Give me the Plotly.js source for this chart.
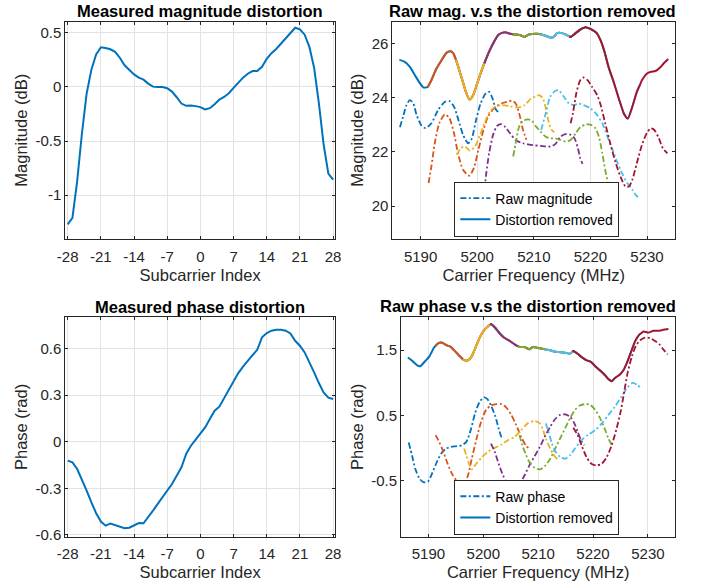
<!DOCTYPE html>
<html>
<head>
<meta charset="utf-8">
<script src="https://cdn.plot.ly/plotly-3.0.1.min.js"></script>
<style>html,body{margin:0;padding:0;background:#fff;}#chart{width:707px;height:584px;}</style>
</head>
<body>
<div id="chart"></div>
<script>
// ---------------- DATA ----------------
const subcarrierIdx = [-28,-27,-26,-25,-24,-23,-22,-21,-20,-19,-18,-17,-16,-15,-14,-13,-12,-11,-10,-9,-8,-7,-6,-5,-4,-3,-2,-1,0,1,2,3,4,5,6,7,8,9,10,11,12,13,14,15,16,17,18,19,20,21,22,23,24,25,26,27,28];
const magDistortion = [-1.27,-1.21,-0.87,-0.43,-0.06,0.16,0.30,0.367,0.36,0.348,0.324,0.27,0.20,0.153,0.116,0.086,0.067,0.031,0.003,0.0,0.0,-0.012,-0.043,-0.095,-0.153,-0.174,-0.171,-0.177,-0.186,-0.208,-0.196,-0.159,-0.116,-0.092,-0.058,-0.009,0.043,0.086,0.122,0.147,0.147,0.186,0.26,0.312,0.351,0.40,0.449,0.495,0.547,0.532,0.483,0.37,0.177,-0.15,-0.53,-0.80,-0.855];
const phaseDistortion = [-0.122,-0.133,-0.176,-0.24,-0.315,-0.39,-0.46,-0.514,-0.54,-0.527,-0.536,-0.549,-0.557,-0.553,-0.54,-0.523,-0.525,-0.486,-0.444,-0.40,-0.358,-0.315,-0.272,-0.219,-0.165,-0.079,-0.026,0.013,0.049,0.092,0.146,0.199,0.225,0.279,0.339,0.392,0.441,0.482,0.521,0.557,0.591,0.671,0.699,0.714,0.72,0.72,0.714,0.696,0.649,0.617,0.574,0.514,0.446,0.377,0.317,0.283,0.274];
const subTickVals = [-28,-21,-14,-7,0,7,14,21,28];
const subTickText = ['-28','-21','-14','-7','0','7','14','21','28'];
const magDistTickVals = [-1,-0.5,0,0.5];
const magDistTickText = ['-1','-0.5','0','0.5'];
const phDistTickVals = [-0.6,-0.3,0,0.3,0.6];
const phDistTickText = ['-0.6','-0.3','0','0.3','0.6'];
const freqTickVals = [5190,5200,5210,5220,5230];
const magTickVals = [20,22,24,26];
const phTickVals = [-0.5,0.5,1.5];
const phTickText = ['-0.5','0.5','1.5'];

const channelCenters = [5195,5200,5205,5210,5215,5220,5225];
const channelHalfSpan = 8.75;
const channelColors = ['#0072BD','#D95319','#EDB120','#7E2F8E','#77AC30','#4DBEEE','#A2142F'];

// raw magnitude per channel (MHz, dB)
const rawMag1F = [5186.35,5186.9,5187.5,5188.1,5188.7,5189.3,5190.2,5190.9,5191.9,5193.1,5194.3,5195.1,5195.9,5196.6,5197.5,5198.4,5199.0,5199.8,5200.6,5201.5,5202.1,5202.7,5203.3,5203.7];
const rawMag1V = [22.91,23.30,23.73,23.91,23.79,23.36,22.96,22.88,23.06,23.55,23.85,23.88,23.67,23.24,22.63,22.32,22.47,23.18,23.79,24.16,24.22,23.98,23.57,23.48];
const rawMag2F = [5191.4,5191.9,5192.5,5193.3,5194.3,5195.1,5195.9,5196.6,5197.5,5198.6,5199.4,5200.2,5201.1,5201.9,5203.1,5204.3,5205.2,5206.1,5206.8,5207.5,5208.1,5208.7];
const rawMag2V = [20.85,21.46,22.32,23.06,23.39,23.24,22.69,21.95,21.34,21.12,21.40,22.07,22.81,23.30,23.64,23.79,23.85,23.89,23.79,23.35,22.80,22.45];
const rawMag3F = [5196.35,5197.1,5197.8,5198.7,5199.6,5200.5,5201.4,5202.2,5203.3,5204.3,5205.8,5207.2,5208.4,5209.4,5210.3,5210.9,5211.6,5212.2,5212.6,5213.1,5213.6];
const rawMag3V = [21.89,22.13,22.20,22.05,22.20,22.63,23.12,23.48,23.69,23.73,23.69,23.64,23.73,23.95,24.05,24.10,23.98,23.55,23.12,22.83,22.72];
const rawMag4F = [5201.3,5201.6,5202.1,5202.8,5203.5,5204.2,5204.9,5205.8,5206.9,5208.1,5209.5,5211.2,5212.9,5213.8,5214.7,5215.6,5216.5,5217.2,5217.8,5218.2,5218.6];
const rawMag4V = [20.60,21.21,21.95,22.63,22.96,23.03,22.93,22.69,22.42,22.32,22.26,22.22,22.20,22.29,22.56,22.66,22.63,22.50,22.13,21.77,21.56];
const rawMag5F = [5206.35,5206.8,5207.4,5208.1,5209.0,5209.7,5210.3,5211.2,5212.1,5212.9,5213.8,5214.7,5215.6,5216.5,5217.4,5218.2,5219.1,5220.0,5220.9,5221.5,5222.1,5222.6,5223.1,5223.6];
const rawMag5V = [21.83,22.32,22.93,23.15,23.20,23.14,22.96,22.75,22.56,22.50,22.50,22.44,22.38,22.44,22.69,22.91,23.01,23.01,22.87,22.56,21.95,21.34,20.85,20.42];
const rawMag6F = [5211.3,5212.1,5212.9,5213.8,5214.4,5215.3,5216.2,5217.1,5217.9,5218.8,5220.0,5221.2,5222.1,5222.9,5223.8,5224.7,5225.6,5226.5,5227.4,5228.1,5228.7];
const rawMag6V = [22.81,23.42,24.04,24.26,24.28,24.04,23.79,23.73,23.79,23.73,23.61,23.36,23.06,22.63,22.13,21.64,21.21,20.85,20.60,20.38,20.29];
const rawMag7F = [5216.5,5216.9,5217.5,5218.2,5218.8,5219.5,5220.3,5221.2,5221.9,5222.6,5223.5,5224.4,5225.3,5226.2,5226.8,5227.4,5228.2,5229.1,5230.0,5230.7,5231.3,5232.1,5232.8,5233.6];
const rawMag7V = [23.06,23.42,24.16,24.65,24.75,24.65,24.40,24.10,23.67,23.06,22.32,21.64,21.09,20.72,20.72,20.97,21.58,22.26,22.71,22.87,22.81,22.50,22.13,21.95];

// magnitude with distortion removed (MHz, dB)
const remMagF = [5186.25,5187.2,5188.1,5189.0,5189.9,5190.5,5191.25,5191.9,5192.8,5193.7,5194.6,5195.3,5195.8,5196.25,5197.2,5198.0,5198.6,5199.2,5200.0,5200.8,5201.25,5202.2,5203.1,5203.75,5204.4,5204.9,5205.8,5206.25,5207.5,5208.4,5208.75,5209.3,5210.6,5211.25,5211.8,5213.2,5213.75,5214.1,5215.0,5215.9,5216.25,5216.5,5217.4,5218.2,5218.75,5219.1,5220.0,5220.9,5221.25,5221.8,5222.5,5223.2,5223.75,5224.1,5225.0,5225.9,5226.25,5226.6,5227.4,5228.2,5228.75,5229.1,5230.0,5230.7,5231.5,5232.4,5232.9,5233.75];
const remMagV = [25.40,25.33,25.14,24.83,24.53,24.38,24.40,24.65,25.08,25.39,25.67,25.72,25.63,25.40,24.77,24.22,23.94,24.06,24.53,25.02,25.27,25.75,26.12,26.33,26.40,26.42,26.37,26.35,26.32,26.25,26.30,26.35,26.37,26.35,26.31,26.22,26.30,26.39,26.39,26.31,26.27,26.25,26.39,26.52,26.58,26.61,26.55,26.43,26.35,26.12,25.69,25.14,24.80,24.59,23.98,23.42,23.30,23.23,23.67,24.22,24.48,24.65,24.90,24.96,24.99,25.14,25.26,25.43];

// raw phase per channel (MHz, rad)
const rawPh1F = [5186.4,5187.0,5187.6,5188.4,5189.1,5189.9,5190.5,5191.4,5192.3,5193.2,5194.1,5195.2,5196.1,5196.9,5197.7,5198.5,5199.3,5200.1,5200.7,5201.4,5202.2,5202.8,5203.3,5203.6];
const rawPh1V = [0.086,-0.109,-0.315,-0.469,-0.52,-0.51,-0.418,-0.238,-0.084,-0.006,0.019,0.03,0.045,0.096,0.276,0.533,0.703,0.775,0.754,0.652,0.482,0.302,0.173,0.158];
const rawPh2F = [5191.3,5191.8,5192.6,5193.5,5194.4,5195.4,5196.3,5197.1,5197.9,5198.7,5199.6,5200.5,5201.4,5202.4,5203.3,5204.2,5205.1,5206.0,5206.9,5207.8,5208.6];
const rawPh2V = [0.20,0.122,-0.032,-0.238,-0.408,-0.52,-0.546,-0.443,-0.161,0.122,0.405,0.585,0.652,0.672,0.672,0.621,0.508,0.353,0.173,0.035,-0.02];
const rawPh3F = [5196.5,5196.9,5197.5,5197.9,5198.7,5199.6,5200.8,5202.1,5203.3,5204.5,5205.7,5206.9,5208.1,5209.4,5210.3,5210.9,5211.5,5212.2,5212.8,5213.4,5213.7];
const rawPh3V = [-0.006,-0.109,-0.264,-0.325,-0.238,-0.15,-0.058,0.004,0.055,0.122,0.173,0.276,0.379,0.415,0.379,0.276,0.122,-0.006,-0.098,-0.161,-0.186];
const rawPh4F = [5201.4,5202.1,5202.8,5203.6,5204.4,5205.1,5205.8,5206.6,5207.5,5208.4,5209.4,5210.3,5211.2,5212.2,5213.1,5214.0,5214.9,5215.8,5216.6,5217.2,5217.8,5218.4];
const rawPh4V = [0.071,-0.058,-0.238,-0.418,-0.546,-0.608,-0.613,-0.546,-0.418,-0.264,-0.115,0.019,0.173,0.327,0.446,0.508,0.518,0.482,0.379,0.25,0.122,0.045];
const rawPh5F = [5206.6,5207.0,5207.7,5208.4,5209.4,5210.3,5211.2,5212.2,5213.1,5214.0,5214.9,5215.8,5216.7,5217.6,5218.5,5219.5,5220.4,5221.3,5222.1,5222.8,5223.5];
const rawPh5V = [0.199,0.071,-0.084,-0.212,-0.30,-0.325,-0.274,-0.161,-0.006,0.148,0.302,0.456,0.585,0.652,0.672,0.662,0.585,0.456,0.302,0.148,0.035];
const rawPh6F = [5211.4,5211.9,5212.5,5213.2,5214.0,5214.9,5215.8,5216.7,5217.9,5219.2,5220.4,5221.6,5222.8,5224.0,5225.2,5226.3,5227.2,5228.0,5228.6];
const rawPh6V = [0.379,0.25,0.071,-0.058,-0.135,-0.161,-0.109,-0.006,0.122,0.21,0.276,0.379,0.508,0.636,0.79,0.929,0.996,0.97,0.929];
const rawPh7F = [5216.4,5217.2,5217.9,5218.8,5219.7,5220.6,5221.6,5222.5,5223.4,5224.3,5225.1,5225.7,5226.3,5227.1,5227.8,5228.6,5229.5,5230.4,5231.3,5232.1,5232.8,5233.6];
const rawPh7V = [0.312,0.199,0.045,-0.135,-0.238,-0.264,-0.238,-0.135,0.045,0.302,0.585,0.868,1.15,1.407,1.562,1.649,1.69,1.68,1.639,1.587,1.51,1.433];

// phase with distortion removed (MHz, rad)
const remPhF = [5186.25,5187.1,5187.9,5188.5,5189.3,5190.2,5191.0,5191.25,5191.7,5192.4,5193.2,5194.0,5194.7,5195.7,5196.25,5196.5,5197.2,5197.9,5198.7,5199.5,5200.3,5201.0,5201.25,5201.4,5202.1,5203.0,5203.75,5204.8,5205.7,5206.25,5206.6,5207.5,5208.4,5208.75,5209.0,5210.3,5211.25,5212.2,5213.1,5213.75,5214.9,5215.8,5216.25,5216.4,5217.2,5217.9,5218.75,5219.6,5220.4,5221.25,5222.2,5222.9,5223.4,5223.75,5224.0,5224.9,5225.5,5226.25,5227.1,5227.7,5228.4,5228.75,5229.2,5230.1,5231.0,5231.9,5232.8,5233.75];
const remPhV = [1.385,1.33,1.27,1.253,1.32,1.407,1.536,1.56,1.598,1.613,1.577,1.551,1.495,1.407,1.36,1.346,1.341,1.407,1.562,1.716,1.819,1.87,1.885,1.896,1.844,1.752,1.69,1.639,1.587,1.56,1.546,1.546,1.51,1.53,1.546,1.526,1.51,1.495,1.474,1.47,1.459,1.443,1.475,1.485,1.443,1.392,1.345,1.32,1.253,1.19,1.114,1.048,1.022,1.05,1.073,1.125,1.186,1.32,1.51,1.639,1.731,1.755,1.783,1.767,1.793,1.793,1.808,1.82];

const rawMagF = [rawMag1F,rawMag2F,rawMag3F,rawMag4F,rawMag5F,rawMag6F,rawMag7F];
const rawMagV = [rawMag1V,rawMag2V,rawMag3V,rawMag4V,rawMag5V,rawMag6V,rawMag7V];
const rawPhF = [rawPh1F,rawPh2F,rawPh3F,rawPh4F,rawPh5F,rawPh6F,rawPh7F];
const rawPhV = [rawPh1V,rawPh2V,rawPh3V,rawPh4V,rawPh5V,rawPh6V,rawPh7V];

// ---------------- STYLE ----------------
const FONT = 'Liberation Sans, Arial, Helvetica, sans-serif';
const AX = '#262626';
const GRID = '#e3e3e3';
const DASHDOT = '6px,2.5px,2px,2.5px';

function windowSlice(F, V, lo, hi) {
  const x = [], y = [];
  for (let i = 0; i < F.length; i++) {
    if (F[i] >= lo - 1e-6 && F[i] <= hi + 1e-6) { x.push(F[i]); y.push(V[i]); }
  }
  return {x, y};
}

const data = [];
data.push({x: subcarrierIdx, y: magDistortion, xaxis: 'x', yaxis: 'y', mode: 'lines',
  line: {color: '#0072BD', width: 2}, showlegend: false, hoverinfo: 'skip'});
data.push({x: subcarrierIdx, y: phaseDistortion, xaxis: 'x3', yaxis: 'y3', mode: 'lines',
  line: {color: '#0072BD', width: 2}, showlegend: false, hoverinfo: 'skip'});

function addRightPlot(xa, ya, rF, rV, remF, remV, rawName, legendId) {
  for (let c = 0; c < channelCenters.length; c++) {
    data.push({x: rF[c], y: rV[c], xaxis: xa, yaxis: ya, mode: 'lines',
      line: {color: channelColors[c], width: 1.8, dash: DASHDOT, shape: 'spline', smoothing: 0.7},
      name: rawName, showlegend: c === 0, legend: legendId, hoverinfo: 'skip'});
  }
  for (let c = 0; c < channelCenters.length; c++) {
    const s = windowSlice(remF, remV, channelCenters[c] - channelHalfSpan, channelCenters[c] + channelHalfSpan);
    data.push({x: s.x, y: s.y, xaxis: xa, yaxis: ya, mode: 'lines',
      line: {color: channelColors[c], width: 2, shape: 'spline', smoothing: 0.6},
      name: 'Distortion removed', showlegend: c === 0, legend: legendId, hoverinfo: 'skip'});
  }
}
addRightPlot('x2', 'y2', rawMagF, rawMagV, remMagF, remMagV, 'Raw magnitude', 'legend');
addRightPlot('x4', 'y4', rawPhF, rawPhV, remPhF, remPhV, 'Raw phase', 'legend2');

function axisBase(extra) {
  return Object.assign({
    showline: true, linecolor: AX, linewidth: 1, mirror: 'ticks',
    ticks: 'inside', ticklen: 3, tickwidth: 1, tickcolor: AX,
    zeroline: false, gridcolor: GRID, gridwidth: 1,
    tickfont: {family: FONT, size: 15, color: AX},
    fixedrange: true
  }, extra);
}
const axTitleFont = {family: FONT, size: 16.5, color: AX};

const yTop = [0.5916, 0.9623];
const yBot = [0.0813, 0.4567];
const xLeft = [0.0924, 0.4738];

const xTitle = (t) => ({text: t, font: axTitleFont, standoff: 5});
const yTitle = (t) => ({text: t, font: axTitleFont, standoff: 3});

const layout = {
  width: 707, height: 584,
  margin: {l: 0, r: 0, t: 0, b: 0},
  paper_bgcolor: '#ffffff', plot_bgcolor: '#ffffff',
  font: {family: FONT, color: AX},
  xaxis: axisBase({domain: xLeft, anchor: 'y', range: [-28.5, 28.4], tickvals: subTickVals, ticktext: subTickText, showgrid: true,
    ticklabelstandoff: 4, title: xTitle('Subcarrier Index')}),
  yaxis: axisBase({domain: yTop, anchor: 'x', range: [-1.4, 0.6], tickvals: magDistTickVals, ticktext: magDistTickText, showgrid: true,
    title: yTitle('Magnitude (dB)')}),
  xaxis2: axisBase({domain: [0.5549, 0.9552], anchor: 'y2', range: [5185, 5235], tickvals: freqTickVals, showgrid: true,
    ticklabelstandoff: 4, title: xTitle('Carrier Frequency (MHz)')}),
  yaxis2: axisBase({domain: yTop, anchor: 'x2', range: [18.8, 26.8], tickvals: magTickVals, showgrid: false,
    title: yTitle('Magnitude (dB)')}),
  xaxis3: axisBase({domain: xLeft, anchor: 'y3', range: [-28.5, 28.4], tickvals: subTickVals, ticktext: subTickText, showgrid: true,
    ticklabelstandoff: 3, title: xTitle('Subcarrier Index')}),
  yaxis3: axisBase({domain: yBot, anchor: 'x3', range: [-0.61, 0.8], tickvals: phDistTickVals, ticktext: phDistTickText, showgrid: true,
    title: yTitle('Phase (rad)')}),
  xaxis4: axisBase({domain: [0.5672, 0.9552], anchor: 'y4', range: [5185, 5235], tickvals: freqTickVals, showgrid: true,
    ticklabelstandoff: 3, title: xTitle('Carrier Frequency (MHz)')}),
  yaxis4: axisBase({domain: yBot, anchor: 'x4', range: [-1.35, 2.0], tickvals: phTickVals, ticktext: phTickText, showgrid: false,
    title: yTitle('Phase (rad)')}),
  legend: {x: 0.6426, y: 0.5950, xanchor: 'left', yanchor: 'bottom', bgcolor: '#ffffff', bordercolor: AX, borderwidth: 1,
    font: {family: FONT, size: 14, color: '#000'}, itemwidth: 30, tracegroupgap: 0},
  legend2: {x: 0.6426, y: 0.0845, xanchor: 'left', yanchor: 'bottom', bgcolor: '#ffffff', bordercolor: AX, borderwidth: 1,
    font: {family: FONT, size: 14, color: '#000'}, itemwidth: 30, tracegroupgap: 0},
  annotations: [
    {text: '<b>Measured magnitude distortion</b>', x: 0.2829, y: 0.9817},
    {text: '<b>Raw mag. v.s the distortion removed</b>', x: 0.7532, y: 0.9817},
    {text: '<b>Measured phase distortion</b>', x: 0.2829, y: 0.4748},
    {text: '<b>Raw phase v.s the distortion removed</b>', x: 0.7468, y: 0.476}
  ].map(a => Object.assign({xref: 'paper', yref: 'paper', xanchor: 'center', yanchor: 'middle', showarrow: false,
    font: {family: FONT, size: 16.5, color: '#000'}}, a))
};

Plotly.newPlot('chart', data, layout, {staticPlot: true, displayModeBar: false});
</script>
</body>
</html>
